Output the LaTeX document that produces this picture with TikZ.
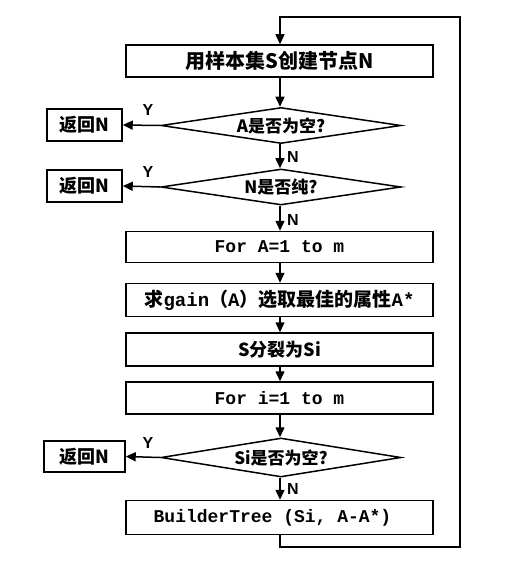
\documentclass[tikz,border=0pt]{standalone}
\usepackage{fontspec}
\setmainfont{Liberation Sans}
\setmonofont{Liberation Mono}
\newfontfamily\cjk{Noto Sans CJK SC}
\usetikzlibrary{shapes.geometric,arrows.meta}
\begin{document}
\begin{tikzpicture}[x=1pt,y=-1pt,
  line width=1.5pt,
  box/.style={draw,rectangle,minimum width=307pt,inner sep=0pt,font=\cjk\bfseries\fontsize{18}{20}\selectfont},
  dia/.style={draw,diamond,aspect=6.6,minimum width=240pt,inner sep=0pt,font=\cjk\bfseries\fontsize{17}{19}\selectfont},
  ret/.style={draw,rectangle,inner sep=0pt,minimum height=32pt,font=\cjk\bfseries\fontsize{18}{20}\selectfont},
  lab/.style={font=\bfseries\fontsize{16}{18}\selectfont,inner sep=0pt},
  arr/.style={-{Triangle[length=10pt,width=9pt]}},
  code/.style={font=\ttfamily\bfseries\fontsize{18}{20}\selectfont}
]
\useasboundingbox (0,0) rectangle (522,569);
\node[box,minimum height=32pt,font=\cjk\bfseries\fontsize{20}{22}\selectfont] (b1) at (279.5,61) {用样本集S创建节点N};
\node[dia,minimum height=36pt] (d1) at (281,125.5) {A是否为空?};
\node[ret,minimum width=75pt] (r1) at (84.5,125) {返回N};
\node[dia,minimum height=36pt] (d2) at (281,187) {N是否纯?};
\node[ret,minimum width=75pt] (r2) at (84.5,186) {返回N};
\node[box,minimum height=31pt,code] (b2) at (279.5,247) {For A=1 to m};
\node[box,minimum height=33pt,font=\cjk\bfseries\fontsize{19}{21}\selectfont] (b3) at (279.5,300) {求{\ttfamily gain}（{\ttfamily A}）选取最佳的属性{\ttfamily A*}};
\node[box,minimum height=33pt] (b4) at (279.5,349.5) {S分裂为Si};
\node[box,minimum height=32pt,code] (b5) at (279.5,398) {For i=1 to m};
\node[dia,minimum height=39pt] (d3) at (281,457.5) {Si是否为空?};
\node[ret,minimum width=81pt,minimum height=31pt] (r3) at (84.5,456.5) {返回N};
\node[box,minimum height=34pt,code] (b6) at (279.5,517.5) {\hspace*{-14pt}BuilderTree (Si, A-A*)};
\coordinate (c1) at (280,547);
\coordinate (c2) at (460,547);
\coordinate (c3) at (460,17);
\coordinate (c4) at (280,17);
\node[lab] (y1) at (148,110) {Y};
\node[lab] (y2) at (148,172) {Y};
\node[lab] (y3) at (148,443) {Y};
\node[lab] (n1) at (293,157) {N};
\node[lab] (n2) at (293,220) {N};
\node[lab] (n3) at (293,489) {N};
\draw[arr] (b1.south -| c4) -- (d1.north -| c4);
\draw[arr] (d1.south -| c4) -- (d2.north -| c4);
\draw[arr] (d2.south -| c4) -- (b2.north -| c4);
\draw[arr] (b2.south -| c4) -- (b3.north -| c4);
\draw[arr] (b3.south -| c4) -- (b4.north -| c4);
\draw[arr] (b4.south -| c4) -- (b5.north -| c4);
\draw[arr] (b5.south -| c4) -- (d3.north -| c4);
\draw[arr] (d3.south -| c4) -- (b6.north -| c4);
\draw[arr] (d1.west) -- (r1.east);
\draw[arr] (d2.west) -- (r2.east);
\draw[arr] (d3.west) -- (r3.east);
\draw[arr] (b6.south -| c1) -- (c1) -- (c2) -- (c3) -- (c4) -- (b1.north -| c4);
\end{tikzpicture}
\end{document}
